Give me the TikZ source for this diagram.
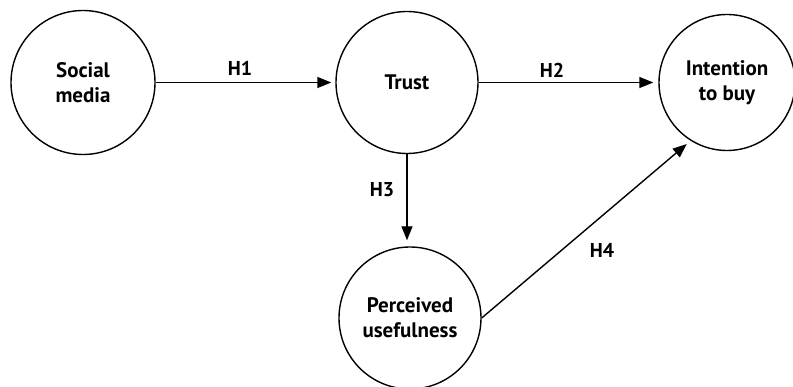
\documentclass[tikz,border=0pt]{standalone}
\usepackage{fontspec}
\setmainfont{PT Sans}
\usetikzlibrary{arrows.meta}
\begin{document}
\begin{tikzpicture}[x=1pt,y=-1pt,
  concept/.style={circle,draw=black,line width=1.4pt,inner sep=0pt,align=center,font=\fontsize{21}{25}\selectfont\bfseries},
  link/.style={line width=1.4pt,-{Triangle[length=14pt,width=11pt]}},
  hlabel/.style={font=\fontsize{20}{24}\selectfont\bfseries,inner sep=0pt}]
\useasboundingbox (0,0) rectangle (793,387);
\node[concept,minimum size=144pt] (sm) at (83,82.5) {Social\\media};
\node[concept,minimum size=142pt] (tr) at (407,82.5) {Trust};
\node[concept,minimum size=136pt] (ib) at (727,82.5) {Intention\\to buy};
\node[concept,minimum size=142pt] (pu) at (410,318) {Perceived\\usefulness};
\draw[link,shorten >=4pt] (sm.east) -- (tr.west);
\draw[link,shorten >=5pt] (tr.east) -- (ib.west);
\draw[link,shorten >=6pt] (tr.south) -- (tr.south |- pu.north);
\draw[link,shorten >=5pt] (pu.east) -- (ib.238);
\node[hlabel] (h1) at (240,68) {H1};
\node[hlabel] (h2) at (552,70) {H2};
\node[hlabel] (h3) at (382,190) {H3};
\node[hlabel] (h4) at (602,250) {H4};
\end{tikzpicture}
\end{document}
